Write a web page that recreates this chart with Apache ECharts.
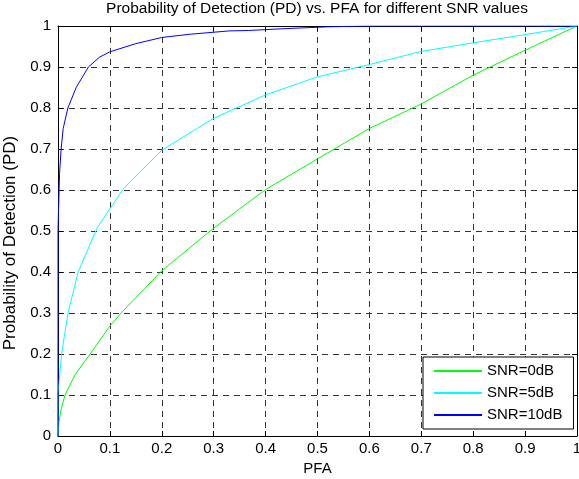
<!DOCTYPE html>
<html>
<head>
<meta charset="utf-8">
<script src="https://cdn.jsdelivr.net/npm/echarts@6/dist/echarts.min.js"></script>
<style>
html,body{margin:0;padding:0;background:#fff;}
#chart{width:579px;height:479px;}
</style>
</head>
<body>
<div id="chart"></div>
<script>
// ---- data ----
const seriesNames = ['SNR=0dB', 'SNR=5dB', 'SNR=10dB'];

const pfa0dB = [0, 0.002, 0.006, 0.0135, 0.033, 0.062, 0.098, 0.123, 0.2, 0.3, 0.4, 0.5, 0.6, 0.7, 0.8, 0.9, 1.0];
const pd0dB  = [0, 0.035, 0.065, 0.1, 0.15, 0.2, 0.265, 0.302, 0.403, 0.507, 0.601, 0.676, 0.75, 0.81, 0.88, 0.941, 1.0];

const pfa5dB = [0, 0, 0.004, 0.007, 0.013, 0.02, 0.039, 0.075, 0.126, 0.2, 0.3, 0.4, 0.5, 0.6, 0.7, 0.8, 0.9, 1.0];
const pd5dB  = [0, 0.105, 0.158, 0.2, 0.25, 0.304, 0.40, 0.507, 0.603, 0.697, 0.775, 0.832, 0.876, 0.906, 0.938, 0.959, 0.979, 1.0];

const pfa10dB = [0, 0, 0.001, 0.003, 0.006, 0.01, 0.019, 0.035, 0.0585, 0.08, 0.1, 0.15, 0.2, 0.255, 0.33, 0.367, 0.368, 0.428, 0.429, 0.52, 0.6, 0.8, 1.0];
const pd10dB  = [0, 0.5, 0.55, 0.64, 0.7, 0.75, 0.8, 0.85, 0.9, 0.924, 0.937, 0.957, 0.972, 0.98, 0.988, 0.989, 0.992, 0.993, 0.996, 0.998, 1.0, 1.0, 1.0];

const xTicks = [0, 0.1, 0.2, 0.3, 0.4, 0.5, 0.6, 0.7, 0.8, 0.9, 1];
const yTicks = [0, 0.1, 0.2, 0.3, 0.4, 0.5, 0.6, 0.7, 0.8, 0.9, 1];
const colors = ['#00ff00', '#00ffff', '#0000ff'];

function zip(xs, ys) { return xs.map((x, i) => [x, ys[i]]); }

const FONT = '"Liberation Sans", Arial, sans-serif';
const chart = echarts.init(document.getElementById('chart'), null, {renderer: 'canvas'});

const gridLine = {show: true, lineStyle: {color: '#333', width: 1, type: [6, 5]}};
const tick = {show: true, inside: true, length: 5, lineStyle: {color: '#000', width: 1}};
const axLine = {show: true, onZero: false, lineStyle: {color: '#000', width: 1}};

chart.setOption({
  animation: false,
  backgroundColor: '#fff',
  textStyle: {fontFamily: FONT},
  title: {
    text: 'Probability of Detection (PD) vs. PFA for different SNR values',
    left: 317, top: 1, textAlign: 'center', padding: 0,
    textStyle: {fontFamily: FONT, fontSize: 15.5, fontWeight: 'normal', color: '#000'}
  },
  grid: {left: 58, right: 2, top: 26, bottom: 43, containLabel: false, outerBoundsMode: 'none'},
  legend: {
    data: seriesNames,
    orient: 'vertical', left: 423, top: 357,
    padding: [6, 11, 6, 10],
    itemWidth: 48, itemHeight: 16, itemGap: 6,
    itemStyle: {opacity: 0},
    backgroundColor: '#fff', borderColor: '#000', borderWidth: 1, borderRadius: 0,
    textStyle: {fontFamily: FONT, fontSize: 15, color: '#000', lineHeight: 16}
  },
  xAxis: [{
    type: 'value', min: 0, max: 1, interval: 0.1,
    name: 'PFA', nameLocation: 'middle', nameGap: 25,
    nameTextStyle: {fontFamily: FONT, fontSize: 15, color: '#000'},
    axisLine: axLine, axisTick: tick, splitLine: gridLine,
    axisLabel: {fontFamily: FONT, fontSize: 15, color: '#000', margin: 5, showMaxLabel: true, showMinLabel: true,
      formatter: v => { const t = xTicks.find(k => Math.abs(k - v) < 1e-9); return t === undefined ? '' : String(t); }}
  }, {
    type: 'value', min: 0, max: 1, interval: 0.1, position: 'top',
    axisLine: axLine, axisTick: tick, splitLine: {show: false}, axisLabel: {show: false}
  }],
  yAxis: [{
    type: 'value', min: 0, max: 1, interval: 0.1,
    name: 'Probability of Detection (PD)', nameLocation: 'middle', nameGap: 35,
    nameTextStyle: {fontFamily: FONT, fontSize: 17, color: '#000', padding: [0, 24, 0, 0]},
    axisLine: axLine, axisTick: tick, splitLine: gridLine,
    axisLabel: {fontFamily: FONT, fontSize: 15, color: '#000', margin: 7,
      formatter: v => { const t = yTicks.find(k => Math.abs(k - v) < 1e-9); return t === undefined ? '' : String(t); }}
  }, {
    type: 'value', min: 0, max: 1, interval: 0.1, position: 'right',
    axisLine: axLine, axisTick: tick, splitLine: {show: false}, axisLabel: {show: false}
  }],
  series: [
    {name: seriesNames[0], type: 'line', data: zip(pfa0dB, pd0dB), symbol: 'none', color: colors[0], lineStyle: {width: 1, color: colors[0]}, z: 3},
    {name: seriesNames[1], type: 'line', data: zip(pfa5dB, pd5dB), symbol: 'none', color: colors[1], lineStyle: {width: 1, color: colors[1]}, z: 4},
    {name: seriesNames[2], type: 'line', data: zip(pfa10dB, pd10dB), symbol: 'none', color: colors[2], lineStyle: {width: 1, color: colors[2]}, z: 5}
  ]
});
</script>
</body>
</html>
